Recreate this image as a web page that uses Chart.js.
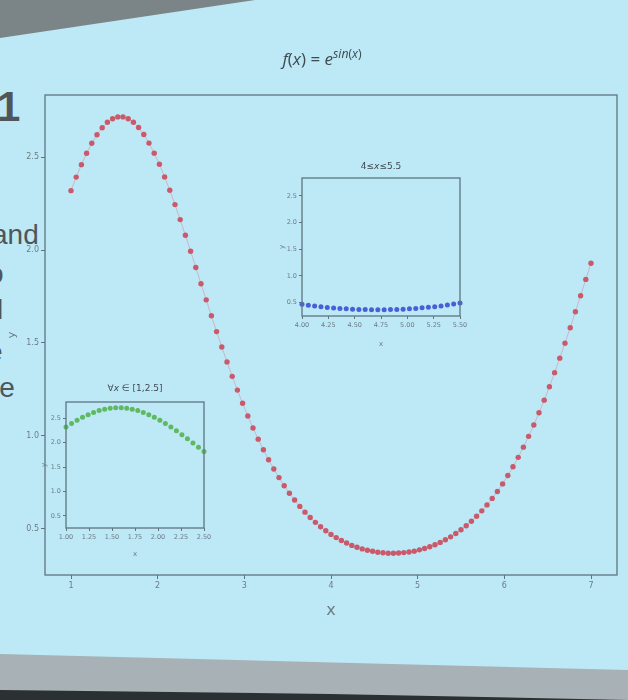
<!DOCTYPE html>
<html>
<head>
<meta charset="utf-8">
<script src="https://cdn.jsdelivr.net/npm/chart.js@4.4.1/dist/chart.umd.min.js"></script>
<style>
  html, body { margin: 0; padding: 0; }
  body {
    width: 628px;
    height: 700px;
    position: relative;
    overflow: hidden;
    background: #bde8f6;
    font-family: "DejaVu Sans", sans-serif;
  }
  .shade-top {
    position: absolute; left: 0; top: 0; width: 628px; height: 60px;
    background: #7b8487;
    clip-path: polygon(0 0, 255px 0, 0 38px);
  }
  .shade-bottom {
    position: absolute; left: 0; top: 640px; width: 628px; height: 60px;
    background: #a8b1b5;
    clip-path: polygon(0 14px, 628px 30px, 628px 60px, 0 60px);
  }
  .shade-dark {
    position: absolute; left: 0; top: 690px; width: 628px; height: 10px;
    background: #2b3033;
    clip-path: polygon(0 0, 330px 4px, 628px 10px, 0 10px);
  }
  .slide-text {
    position: absolute;
    font-family: "Liberation Sans", Arial, sans-serif;
    color: #4e5659;
    line-height: 1;
  }
  canvas { position: absolute; }
  #main { left: 0; top: 0; }
  #insetA { left: 30px; top: 380px; }
  #insetB { left: 270px; top: 160px; }
  .title {
    position: absolute;
    color: #3f4a50;
    white-space: nowrap;
    transform: translateX(-50%);
  }
  .title sup { font-size: 0.72em; }
</style>
</head>
<body>
  <div class="shade-top"></div>
  <div class="shade-bottom"></div>
  <div class="shade-dark"></div>

  <div class="slide-text" style="left:-3px;top:86px;font-size:42px;font-weight:bold;">1</div>
  <div class="slide-text" style="left:-8px;top:221px;font-size:28px;">and</div>
  <div class="slide-text" style="left:-12px;top:260px;font-size:28px;">o</div>
  <div class="slide-text" style="left:-3px;top:296px;font-size:28px;">l</div>
  <div class="slide-text" style="left:-13px;top:338px;font-size:28px;">e</div>
  <div class="slide-text" style="left:-10px;top:374px;font-size:28px;">re</div>

  <canvas id="main" width="628" height="700"></canvas>
  <canvas id="insetA" width="190" height="180"></canvas>
  <canvas id="insetB" width="200" height="190"></canvas>

  <div class="title" style="left:322px;top:45px;font-size:17px;font-family:'Open Sans',sans-serif;">
    <i>f</i>(<i>x</i>) = <i>e</i><sup><i>sin</i>(<i>x</i>)</sup>
  </div>
  <div class="title" style="left:135px;top:383px;font-size:9px;">&forall;<i>x</i> &isin; [1,2.5]</div>
  <div class="title" style="left:381px;top:161px;font-size:9px;">4&le;<i>x</i>&le;5.5</div>

<script>
// sample points
const xVals = [
  1.00, 1.06, 1.12, 1.18, 1.24, 1.30, 1.36, 1.42, 1.48, 1.54,
  1.60, 1.66, 1.72, 1.78, 1.84, 1.90, 1.96, 2.02, 2.08, 2.14,
  2.20, 2.26, 2.32, 2.38, 2.44, 2.50, 2.56, 2.62, 2.68, 2.74,
  2.80, 2.86, 2.92, 2.98, 3.04, 3.10, 3.16, 3.22, 3.28, 3.34,
  3.40, 3.46, 3.52, 3.58, 3.64, 3.70, 3.76, 3.82, 3.88, 3.94,
  4.00, 4.06, 4.12, 4.18, 4.24, 4.30, 4.36, 4.42, 4.48, 4.54,
  4.60, 4.66, 4.72, 4.78, 4.84, 4.90, 4.96, 5.02, 5.08, 5.14,
  5.20, 5.26, 5.32, 5.38, 5.44, 5.50, 5.56, 5.62, 5.68, 5.74,
  5.80, 5.86, 5.92, 5.98, 6.04, 6.10, 6.16, 6.22, 6.28, 6.34,
  6.40, 6.46, 6.52, 6.58, 6.64, 6.70, 6.76, 6.82, 6.88, 6.94,
  7.00
];
const yVals = [
  2.320, 2.393, 2.460, 2.521, 2.575, 2.621, 2.659, 2.688, 2.707, 2.717,
  2.717, 2.707, 2.688, 2.660, 2.622, 2.576, 2.522, 2.462, 2.394, 2.322,
  2.245, 2.164, 2.080, 1.994, 1.906, 1.819, 1.732, 1.646, 1.561, 1.478,
  1.398, 1.320, 1.246, 1.175, 1.107, 1.042, 0.982, 0.925, 0.871, 0.821,
  0.775, 0.731, 0.691, 0.654, 0.620, 0.589, 0.560, 0.534, 0.510, 0.489,
  0.469, 0.452, 0.436, 0.423, 0.410, 0.400, 0.391, 0.384, 0.378, 0.373,
  0.370, 0.368, 0.368, 0.369, 0.371, 0.374, 0.379, 0.386, 0.393, 0.403,
  0.413, 0.426, 0.440, 0.456, 0.474, 0.494, 0.516, 0.540, 0.567, 0.596,
  0.628, 0.663, 0.700, 0.741, 0.786, 0.833, 0.884, 0.939, 0.997, 1.058,
  1.124, 1.192, 1.264, 1.340, 1.418, 1.499, 1.582, 1.668, 1.754, 1.842,
  1.929
];

const yTicks = [0.5, 1.0, 1.5, 2.0, 2.5];
const yRange = [0.2505, 2.835];

const mainXTicks = [1, 2, 3, 4, 5, 6, 7];
const mainXRange = [0.7, 7.3];

const insetAXTicks = [1.00, 1.25, 1.50, 1.75, 2.00, 2.25, 2.50];
const insetARange = [1, 2.5];

const insetBXTicks = [4.00, 4.25, 4.50, 4.75, 5.00, 5.25, 5.50];
const insetBRange = [4, 5.5];

const axisColor = '#5f7580';
const labelColor = '#6b7c84';

const allPoints = xVals.map((x, i) => ({ x: x, y: yVals[i] }));
const inRange = r => allPoints.filter(p => p.x >= r[0] - 1e-9 && p.x <= r[1] + 1e-9);

// full box round the plot area, like matplotlib spines
const frame = {
  id: 'frame',
  afterDraw(chart) {
    const a = chart.chartArea;
    const ctx = chart.ctx;
    ctx.save();
    ctx.strokeStyle = axisColor;
    ctx.lineWidth = 1.3;
    ctx.strokeRect(a.left, a.top, a.right - a.left, a.bottom - a.top);
    ctx.restore();
  }
};

function makeChart(id, opts) {
  const ctx = document.getElementById(id).getContext('2d');
  return new Chart(ctx, {
    type: 'scatter',
    data: {
      datasets: [{
        data: opts.points,
        showLine: opts.line,
        borderColor: opts.lineColor,
        borderWidth: 1,
        pointRadius: opts.radius,
        pointBackgroundColor: opts.color,
        pointBorderColor: opts.color,
        pointBorderWidth: 0
      }]
    },
    options: {
      responsive: false,
      animation: false,
      clip: false,
      layout: { padding: opts.padding },
      plugins: { legend: { display: false }, tooltip: { enabled: false } },
      scales: {
        x: {
          type: 'linear',
          min: opts.xRange[0],
          max: opts.xRange[1],
          afterBuildTicks: s => { s.ticks = opts.xTicks.map(v => ({ value: v })); },
          afterFit: s => { s.height = opts.xHeight; },
          grid: { drawOnChartArea: false, drawTicks: true, tickLength: opts.tickLen, color: axisColor },
          border: { display: false },
          ticks: {
            color: labelColor,
            font: { size: opts.fontSize, family: 'DejaVu Sans' },
            padding: 2,
            maxRotation: 0,
            autoSkip: false,
            callback: v => opts.xFmt(v)
          },
          title: {
            display: true,
            text: 'x',
            color: labelColor,
            font: { size: opts.titleSize, family: 'DejaVu Sans' },
            padding: { top: opts.titlePad, bottom: 0 }
          }
        },
        y: {
          type: 'linear',
          min: yRange[0],
          max: yRange[1],
          afterBuildTicks: s => { s.ticks = yTicks.map(v => ({ value: v })); },
          afterFit: s => { s.width = opts.yWidth; },
          grid: { drawOnChartArea: false, drawTicks: true, tickLength: opts.tickLen, color: axisColor },
          border: { display: false },
          ticks: {
            color: labelColor,
            font: { size: opts.fontSize, family: 'DejaVu Sans' },
            padding: 2,
            callback: v => v.toFixed(1)
          },
          title: {
            display: true,
            text: 'y',
            color: labelColor,
            font: { size: opts.yTitleSize, family: 'DejaVu Sans' },
            padding: { top: 0, bottom: 2 }
          }
        }
      }
    },
    plugins: [frame]
  });
}

// main plot
makeChart('main', {
  points: allPoints,
  line: true,
  lineColor: 'rgba(214,140,158,0.55)',
  color: '#c95a6c',
  radius: 2.7,
  padding: { left: 6, right: 11, top: 95, bottom: 80 },
  xRange: mainXRange,
  xTicks: mainXTicks,
  xFmt: v => String(v),
  xHeight: 45,
  yWidth: 39,
  tickLen: 4,
  fontSize: 8,
  titleSize: 16,
  yTitleSize: 11,
  titlePad: 4
});

// inset on the rising part, 1 <= x <= 2.5
makeChart('insetA', {
  points: inRange(insetARange),
  line: false,
  lineColor: '#5fb862',
  color: '#5fb862',
  radius: 2.5,
  padding: { left: 10, right: 16, top: 22, bottom: 2 },
  xRange: insetARange,
  xTicks: insetAXTicks,
  xFmt: v => v.toFixed(2),
  xHeight: 30,
  yWidth: 26,
  tickLen: 3,
  fontSize: 6.5,
  titleSize: 7,
  yTitleSize: 7,
  titlePad: 2
});

// inset on the bottom part, 4 <= x <= 5.5
makeChart('insetB', {
  points: inRange(insetBRange),
  line: false,
  lineColor: '#4760d8',
  color: '#4760d8',
  radius: 2.5,
  padding: { left: 8, right: 10, top: 18, bottom: 2 },
  xRange: insetBRange,
  xTicks: insetBXTicks,
  xFmt: v => v.toFixed(2),
  xHeight: 32,
  yWidth: 24,
  tickLen: 3,
  fontSize: 6.5,
  titleSize: 7,
  yTitleSize: 7,
  titlePad: 2
});
</script>
</body>
</html>
